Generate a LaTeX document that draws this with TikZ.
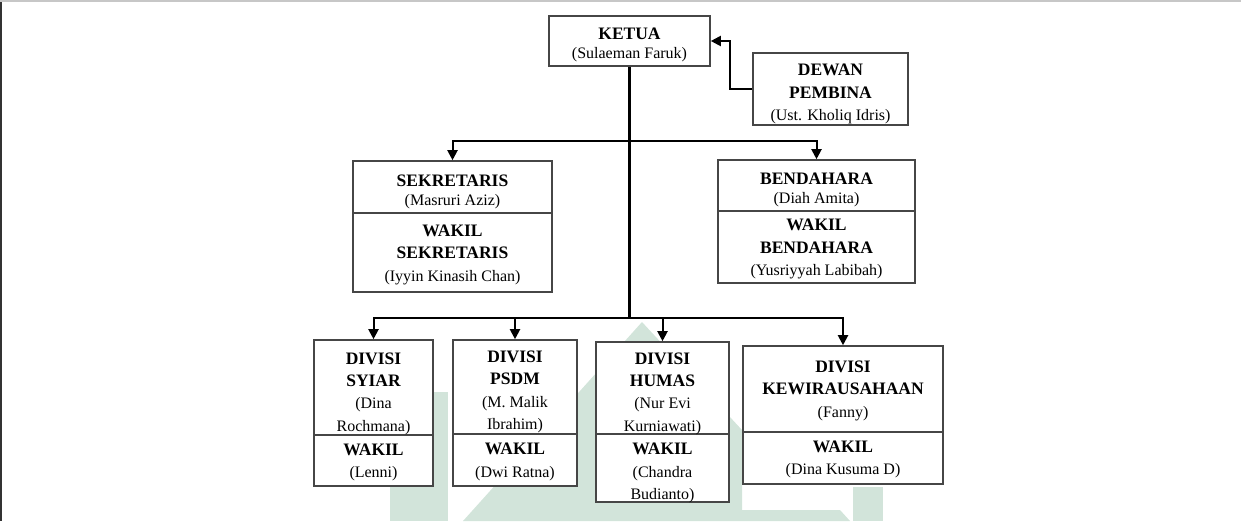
\documentclass[tikz,border=0pt]{standalone}
\usepackage{fontspec}
\setmainfont{Liberation Serif}
\usetikzlibrary{arrows.meta}
\definecolor{wm}{RGB}{210,228,218}
\definecolor{boxline}{RGB}{70,70,70}
\newcommand{\hd}[1]{{\fontsize{8.75}{11.2}\selectfont\bfseries #1}}
\tikzset{
  box/.style={draw=boxline, line width=0.8pt, fill=white},
  lbl/.style={align=center, inner sep=0pt, font=\fontsize{8}{11.2}\selectfont},
  arr/.style={draw=black, line width=1pt, -{Triangle[length=5pt,width=5pt]}},
  trunk/.style={draw=black, line width=1.5pt},
}
\begin{document}
\begin{tikzpicture}[x=0.5pt,y=-0.5pt]
\useasboundingbox (0,0) rectangle (1241,521);
% frame edges
\fill[black!80] (0,0) rectangle (2,521);
\fill[black!22] (0,0) rectangle (1241,1.5);
% watermark
\fill[wm] (390,392) rectangle (448,521);
\fill[wm] (463,521) -- (642,322) -- (742,430) -- (742,510) -- (840,510) -- (850,521) -- cycle;
\fill[wm] (853,487) rectangle (883,521);
% boxes
\node[box, minimum width=80.5pt, minimum height=25pt] (ketua) at (629.5,41) {};
\node[box, minimum width=77.5pt, minimum height=36pt] (dewan) at (830.5,89) {};
\node[box, minimum width=99.5pt, minimum height=26pt] (sek1) at (452.5,187) {};
\node[box, minimum width=99.5pt, minimum height=39.5pt] (sek2) at (452.5,252.5) {};
\node[box, minimum width=98.5pt, minimum height=25.5pt] (ben1) at (816.5,185.5) {};
\node[box, minimum width=98.5pt, minimum height=36pt] (ben2) at (816.5,247) {};
\node[box, minimum width=59.5pt, minimum height=47.5pt] (syiar1) at (373.5,387.5) {};
\node[box, minimum width=59.5pt, minimum height=25.5pt] (syiar2) at (373.5,460.5) {};
\node[box, minimum width=62pt, minimum height=47pt] (psdm1) at (515,387) {};
\node[box, minimum width=62pt, minimum height=26pt] (psdm2) at (515,460) {};
\node[box, minimum width=66.5pt, minimum height=46pt] (humas1) at (662.5,388) {};
\node[box, minimum width=66.5pt, minimum height=34pt] (humas2) at (662.5,468) {};
\node[box, minimum width=100pt, minimum height=43pt] (kew1) at (843,389) {};
\node[box, minimum width=100pt, minimum height=26pt] (kew2) at (843,458) {};
% texts
\node[lbl] (ketuaT) at ([yshift=-2pt]ketua.center) {\hd{KETUA}\\[-1.6pt](Sulaeman Faruk)};
\node[lbl] (dewanT) at ([yshift=-2.5pt]dewan.center) {\hd{DEWAN}\\\hd{PEMBINA}\\(Ust. Kholiq Idris)};
\node[lbl] (sek1T) at ([yshift=-2.5pt]sek1.center) {\hd{SEKRETARIS}\\[-1.6pt](Masruri Aziz)};
\node[lbl] (sek2T) at ([yshift=-1.2pt]sek2.center) {\hd{WAKIL}\\\hd{SEKRETARIS}\\(Iyyin Kinasih Chan)};
\node[lbl] (ben1T) at ([yshift=-2.2pt]ben1.center) {\hd{BENDAHARA}\\[-1.6pt](Diah Amita)};
\node[lbl] (ben2T) at ([yshift=-1pt]ben2.center) {\hd{WAKIL}\\\hd{BENDAHARA}\\(Yusriyyah Labibah)};
\node[lbl] (syiar1T) at ([yshift=-3pt]syiar1.center) {\hd{DIVISI}\\\hd{SYIAR}\\(Dina\\Rochmana)};
\node[lbl] (syiar2T) at ([yshift=-1pt]syiar2.center) {\hd{WAKIL}\\(Lenni)};
\node[lbl] (psdm1T) at ([yshift=-2.5pt]psdm1.center) {\hd{DIVISI}\\\hd{PSDM}\\(M. Malik\\Ibrahim)};
\node[lbl] (psdm2T) at ([yshift=-1pt]psdm2.center) {\hd{WAKIL}\\(Dwi Ratna)};
\node[lbl] (humas1T) at ([yshift=-2.8pt]humas1.center) {\hd{DIVISI}\\\hd{HUMAS}\\(Nur Evi\\Kurniawati)};
\node[lbl] (humas2T) at ([yshift=-2.5pt]humas2.center) {\hd{WAKIL}\\(Chandra\\Budianto)};
\node[lbl] (kew1T) at ([yshift=-0.8pt]kew1.center) {\hd{DIVISI}\\\hd{KEWIRAUSAHAAN}\\(Fanny)};
\node[lbl] (kew2T) at ([yshift=-0.8pt]kew2.center) {\hd{WAKIL}\\(Dina Kusuma D)};
% connectors
\coordinate (b1) at (629.5,141);
\coordinate (b2) at (629.5,318);
\draw[trunk] (ketua.south) -- (b2);
\draw[arr] (dewan.west) -- ++(-22,0) |- (ketua.east);
\draw[arr] (b1) -| (sek1.north);
\draw[arr] (b1) -| (ben1.north);
\draw[arr] (b2) -| (syiar1.north);
\draw[arr] (b2) -| (psdm1.north);
\draw[arr] (b2) -| (humas1.north);
\draw[arr] (b2) -| (kew1.north);
\end{tikzpicture}
\end{document}
